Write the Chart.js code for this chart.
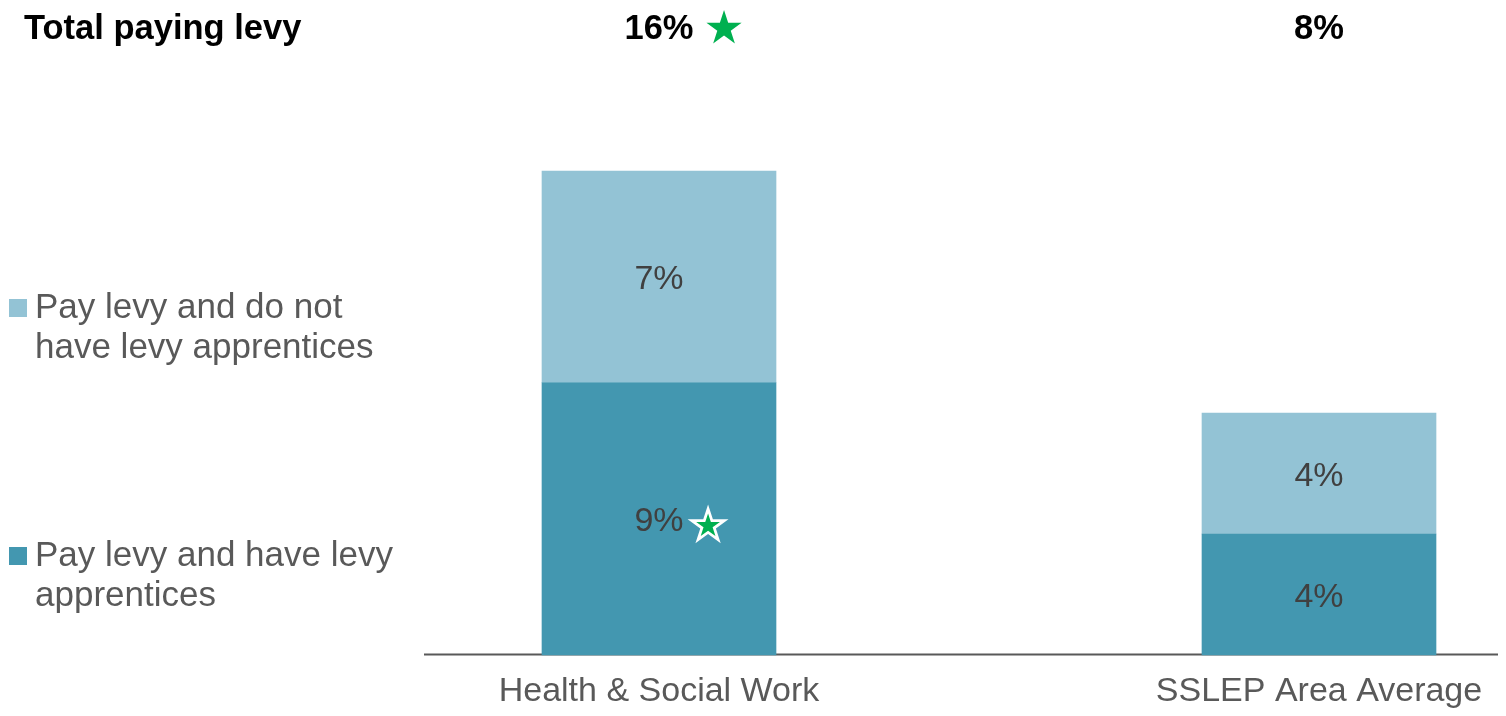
<!DOCTYPE html>
<html>
<head>
<meta charset="utf-8">
<title>Employers paying the apprenticeship levy</title>
<script src="https://cdn.jsdelivr.net/npm/chart.js@4.4.1/dist/chart.umd.min.js"></script>
<style>
  html, body { margin: 0; padding: 0; background: #fff; }
  canvas { display: block; }
</style>
</head>
<body>
<canvas id="levyChart" width="1506" height="716"></canvas>
<script>
// share of employers (%)
const categories = ['Health & Social Work', 'SSLEP Area Average'];
const seriesNames = ['Pay levy and have levy apprentices', 'Pay levy and do not have levy apprentices'];
const haveApprentices = [9, 4];
const noApprentices = [7, 4];
// significant difference vs area average
const haveApprenticesSig = [true, false];
const totalSig = [true, false];

const seriesColors = ['#4397b0', '#93c3d5'];
const totals = categories.map((c, i) => haveApprentices[i] + noApprentices[i]);

const FONT = "'Liberation Sans', Arial, sans-serif";
const GREEN = '#00b050';

function drawStar(ctx, cx, cy, r, fill) {
  ctx.beginPath();
  for (let k = 0; k < 10; k++) {
    const rad = k % 2 ? r * 0.382 : r;
    const a = -Math.PI / 2 + k * Math.PI / 5;
    ctx.lineTo(cx + rad * Math.cos(a), cy + rad * Math.sin(a));
  }
  ctx.closePath();
  ctx.fillStyle = fill;
  ctx.fill();
}

// axis line runs wider than the plot area
const baseLine = {
  id: 'baseLine',
  beforeDatasetsDraw(chart) {
    const ctx = chart.ctx;
    const y = chart.scales.y.getPixelForValue(0) - 0.5;
    ctx.save();
    ctx.strokeStyle = '#595959';
    ctx.lineWidth = 2;
    ctx.beginPath();
    ctx.moveTo(424, y);
    ctx.lineTo(1498, y);
    ctx.stroke();
    ctx.restore();
  }
};

// percentages inside each segment, star where significant
const segmentLabels = {
  id: 'segmentLabels',
  afterDatasetsDraw(chart) {
    const ctx = chart.ctx;
    ctx.save();
    ctx.font = '34px ' + FONT;
    ctx.textAlign = 'center';
    ctx.textBaseline = 'middle';
    chart.data.datasets.forEach((ds, di) => {
      chart.getDatasetMeta(di).data.forEach((bar, i) => {
        const text = ds.data[i] + '%';
        const y = (bar.y + bar.base) / 2 + 3;
        ctx.fillStyle = '#404040';
        ctx.fillText(text, bar.x, y);
        if (ds.sig && ds.sig[i]) {
          const sx = bar.x + ctx.measureText(text).width / 2 + 24.5;
          drawStar(ctx, sx, y + 4, 21.5, '#ffffff');
          drawStar(ctx, sx, y + 4, 12.5, GREEN);
        }
      });
    });
    ctx.restore();
  }
};

// header row with the totals above each bar
const totalsRow = {
  id: 'totalsRow',
  afterDraw(chart) {
    const ctx = chart.ctx;
    const x = chart.scales.x;
    ctx.save();
    ctx.font = 'bold 34.5px ' + FONT;
    ctx.textBaseline = 'middle';
    ctx.textAlign = 'left';
    ctx.fillStyle = '#000000';
    ctx.fillText('Total paying levy', 24, 29);
    ctx.textAlign = 'center';
    totals.forEach((t, i) => {
      const text = t + '%';
      const cx = x.getPixelForValue(i);
      ctx.fillStyle = '#000000';
      ctx.fillText(text, cx, 29);
      if (totalSig[i]) {
        const w = ctx.measureText(text).width;
        drawStar(ctx, cx + w / 2 + 30.5, 28.5, 18.5, GREEN);
      }
    });
    ctx.restore();
  }
};

// legend on the left, top entry first, text wrapped
const sideLegend = {
  id: 'sideLegend',
  afterDraw(chart) {
    const ctx = chart.ctx;
    ctx.save();
    ctx.font = '35px ' + FONT;
    ctx.textBaseline = 'alphabetic';
    ctx.textAlign = 'left';
    const order = chart.data.datasets.map((d, i) => i).reverse();
    const tops = [299, 547];
    order.forEach((di, k) => {
      const ds = chart.data.datasets[di];
      const words = ds.label.split(' ');
      const lines = [];
      let line = '';
      words.forEach(w => {
        const test = line ? line + ' ' + w : w;
        if (ctx.measureText(test).width > 375 && line) {
          lines.push(line);
          line = w;
        } else {
          line = test;
        }
      });
      lines.push(line);
      ctx.fillStyle = ds.backgroundColor;
      ctx.fillRect(9, tops[k], 18, 18);
      ctx.fillStyle = '#595959';
      lines.forEach((l, j) => ctx.fillText(l, 35, tops[k] + 19 + j * 40));
    });
    ctx.restore();
  }
};

new Chart(document.getElementById('levyChart'), {
  type: 'bar',
  data: {
    labels: categories,
    datasets: [
      {
        label: seriesNames[0],
        data: haveApprentices,
        sig: haveApprenticesSig,
        backgroundColor: seriesColors[0]
      },
      {
        label: seriesNames[1],
        data: noApprentices,
        backgroundColor: seriesColors[1]
      }
    ]
  },
  options: {
    responsive: false,
    devicePixelRatio: 1,
    animation: false,
    clip: false,
    barThickness: 234,
    layout: { padding: { left: 659, right: 187, top: 50, bottom: 0 } },
    plugins: {
      legend: { display: false },
      tooltip: { enabled: false }
    },
    scales: {
      x: {
        stacked: true,
        offset: false,
        grid: { display: false, drawTicks: false },
        border: { display: false },
        ticks: {
          padding: 16,
          maxRotation: 0,
          autoSkip: false,
          color: '#595959',
          font: { family: FONT, size: 34 }
        },
        afterFit(scale) { scale.height = 61; }
      },
      y: {
        stacked: true,
        display: false,
        min: 0,
        max: 20
      }
    }
  },
  plugins: [baseLine, segmentLabels, totalsRow, sideLegend]
});
</script>
</body>
</html>
